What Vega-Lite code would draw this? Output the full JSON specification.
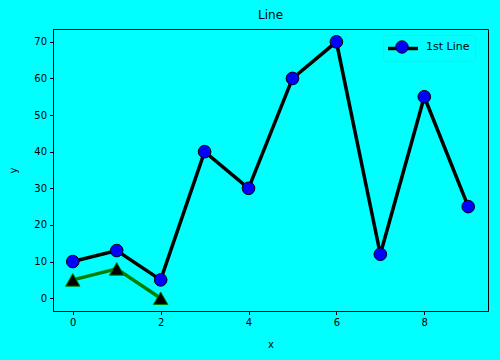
{
  "$schema": "https://vega.github.io/schema/vega-lite/v6.json",
  "width": 435,
  "height": 282,
  "autosize": {"type": "none"},
  "padding": {"left": 53, "top": 29, "right": 12, "bottom": 49},
  "background": "#00ffff",
  "title": {"text": "Line", "fontSize": 12, "font": "DejaVu Sans", "fontWeight": "normal", "color": "black", "offset": 7},
  "config": {
    "view": {"fill": "#00ffff", "stroke": "black", "strokeWidth": 1},
    "axis": {
      "grid": false,
      "domainColor": "black",
      "tickColor": "black",
      "tickSize": 3.5,
      "labelPadding": 3,
      "labelFont": "DejaVu Sans",
      "labelFontSize": 10,
      "labelColor": "black",
      "titleFont": "DejaVu Sans",
      "titleFontSize": 10,
      "titleFontWeight": "normal",
      "titleColor": "black"
    }
  },
  "data": {
    "values": [
      {"series": "1st Line", "x": 0, "y": 10},
      {"series": "1st Line", "x": 1, "y": 13},
      {"series": "1st Line", "x": 2, "y": 5},
      {"series": "1st Line", "x": 3, "y": 40},
      {"series": "1st Line", "x": 4, "y": 30},
      {"series": "1st Line", "x": 5, "y": 60},
      {"series": "1st Line", "x": 6, "y": 70},
      {"series": "1st Line", "x": 7, "y": 12},
      {"series": "1st Line", "x": 8, "y": 55},
      {"series": "1st Line", "x": 9, "y": 25},
      {"series": "2nd Line", "x": 0, "y": 5},
      {"series": "2nd Line", "x": 1, "y": 8},
      {"series": "2nd Line", "x": 2, "y": 0}
    ]
  },
  "encoding": {
    "x": {"field": "x", "type": "quantitative", "title": "x",
      "scale": {"domain": [-0.45, 9.45], "nice": false, "zero": false},
      "axis": {"values": [0, 2, 4, 6, 8], "titlePadding": 12}},
    "y": {"field": "y", "type": "quantitative", "title": "y",
      "scale": {"domain": [-3.5, 73.5], "nice": false, "zero": false},
      "axis": {"values": [0, 10, 20, 30, 40, 50, 60, 70], "titlePadding": 15}}
  },
  "layer": [
    {
      "transform": [{"filter": "datum.series === '1st Line'"}],
      "mark": {"type": "line", "strokeWidth": 3.5},
      "encoding": {
        "stroke": {"field": "series", "type": "nominal",
          "scale": {"domain": ["1st Line"], "range": ["black"]},
          "legend": {"title": null, "orient": "none", "legendX": 333, "legendY": 2.5,
            "symbolType": "stroke", "symbolSize": 900, "symbolStrokeWidth": 3.5,
            "labelExpr": "''", "labelFontSize": 10,
            "padding": 0, "fillColor": null, "strokeColor": null, "zindex": 2}}
      }
    },
    {
      "transform": [{"filter": "datum.series === '1st Line'"}],
      "mark": {"type": "point", "shape": "circle", "filled": true, "size": 160, "stroke": "black", "strokeWidth": 1, "opacity": 1},
      "encoding": {
        "fill": {"field": "series", "type": "nominal",
          "scale": {"range": ["blue"]},
          "legend": {"title": null, "orient": "none", "legendX": 330, "legendY": 6,
            "symbolType": "circle", "symbolSize": 154, "symbolStrokeColor": "black", "symbolStrokeWidth": 1, "symbolOpacity": 1,
            "symbolOffset": 7,
            "labelFont": "DejaVu Sans", "labelFontSize": 11, "labelColor": "black", "labelOffset": 17,
            "padding": 5, "strokeColor": "#2ee0e0", "cornerRadius": 3, "zindex": 3}}
      }
    },
    {
      "transform": [{"filter": "datum.series === '2nd Line'"}],
      "mark": {"type": "line", "strokeWidth": 3.5, "color": "green"},
      "encoding": {}
    },
    {
      "transform": [{"filter": "datum.series === '2nd Line'"}],
      "mark": {"type": "point", "shape": "triangle-up", "filled": true, "size": 210, "fill": "black", "stroke": "green", "strokeWidth": 1, "opacity": 1},
      "encoding": {}
    }
  ]
}
